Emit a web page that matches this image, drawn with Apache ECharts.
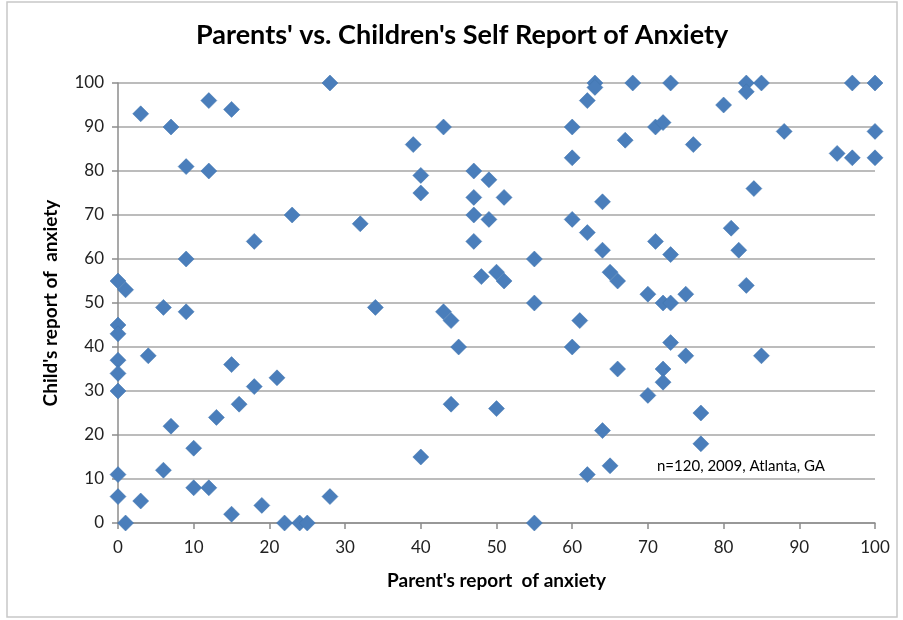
<!DOCTYPE html>
<html>
<head>
<meta charset="utf-8">
<script src="https://cdn.jsdelivr.net/npm/echarts@6/dist/echarts.min.js"></script>
<style>
html,body{margin:0;padding:0;background:#fff;}
#chart{width:903px;height:620px;}
</style>
</head>
<body>
<div id="chart"></div>
<script>
const titleText = "Parents' vs. Children's Self Report of Anxiety";
const xAxisTitle = "Parent's report  of anxiety";
const yAxisTitle = "Child's report of  anxiety";
const noteText = "n=120, 2009, Atlanta, GA";

// Parent's report (x) values
const parentScores = [
  0, 1, 0, 0, 0, 0, 0, 0, 0, 1,
  3, 3, 4, 6, 6, 7, 7, 9, 9, 9,
  10, 10, 12, 12, 12, 13, 15, 15, 15, 16,
  18, 18, 19, 21, 22, 23, 24, 25, 28, 28,
  32, 34, 39, 40, 40, 40, 43, 43, 44, 44,
  45, 47, 47, 47, 47, 48, 49, 49, 50, 51,
  50, 51, 55, 55, 55, 60, 60, 60, 60,
  62, 63, 63, 62, 61, 62, 64, 64, 64, 65,
  66, 66, 65, 67, 68, 70, 70, 71, 72, 71,
  72, 73, 73, 73, 72, 72, 73, 75, 75, 76,
  77, 77, 80, 81, 82, 83, 83, 83, 84, 85,
  85, 88, 95, 97, 97, 100, 100, 100
];
// Child's report (y) values
const childScores = [
  55, 53, 45, 43, 37, 34, 30, 11, 6, 0,
  93, 5, 38, 49, 12, 90, 22, 81, 60, 48,
  17, 8, 96, 80, 8, 24, 94, 36, 2, 27,
  64, 31, 4, 33, 0, 70, 0, 0, 100, 6,
  68, 49, 86, 79, 75, 15, 90, 48, 46, 27,
  40, 80, 74, 70, 64, 56, 78, 69, 57, 55,
  26, 74, 60, 50, 0, 90, 83, 69, 40,
  96, 100, 99, 66, 46, 11, 73, 62, 21, 57,
  55, 35, 13, 87, 100, 52, 29, 90, 91, 64,
  50, 50, 61, 41, 35, 32, 100, 52, 38, 86,
  25, 18, 95, 67, 62, 100, 98, 54, 76, 100,
  38, 89, 84, 100, 83, 100, 89, 83
];

const points = parentScores.map((p, i) => [p, childScores[i]]);

const chart = echarts.init(document.getElementById('chart'));
const FONT = 'Lato';
chart.setOption({
  animation: false,
  backgroundColor: '#ffffff',
  title: {
    text: titleText,
    left: 196,
    top: 22,
    padding: 0,
    textStyle: {fontFamily: FONT, fontWeight: 'bold', fontSize: 27, color: '#000'}
  },
  grid: {left: 118, right: 28, top: 83, bottom: 97},
  xAxis: {
    type: 'value',
    min: 0, max: 100, interval: 10,
    name: xAxisTitle,
    nameLocation: 'middle',
    nameGap: 48,
    nameTextStyle: {fontFamily: FONT, fontWeight: 'bold', fontSize: 19, color: '#000'},
    axisLine: {show: true, lineStyle: {color: '#8c8c8c', width: 1.5}},
    axisTick: {show: true, length: 6, lineStyle: {color: '#8c8c8c', width: 1.5}},
    axisLabel: {fontFamily: FONT, fontSize: 17, color: '#222', margin: 16},
    splitLine: {show: false}
  },
  yAxis: {
    type: 'value',
    min: 0, max: 100, interval: 10,
    name: yAxisTitle,
    nameLocation: 'middle',
    nameGap: 58,
    nameRotate: 90,
    nameTextStyle: {fontFamily: FONT, fontWeight: 'bold', fontSize: 19, color: '#000'},
    axisLine: {show: true, lineStyle: {color: '#8c8c8c', width: 1.5}},
    axisTick: {show: true, length: 6, lineStyle: {color: '#8c8c8c', width: 1.5}},
    axisLabel: {fontFamily: FONT, fontSize: 17, color: '#222', margin: 14},
    splitLine: {show: true, lineStyle: {color: '#a6a6a6', width: 1.5}}
  },
  series: [{
    type: 'scatter',
    data: points,
    symbol: 'diamond',
    symbolSize: 16,
    itemStyle: {color: '#4a7ebb', borderColor: '#3f72ad', borderWidth: 0.5, opacity: 1}
  }],
  graphic: [
    {
      type: 'rect',
      shape: {x: 7, y: 2, width: 890, height: 615},
      style: {fill: 'none', stroke: '#c8c8c8', lineWidth: 1.5},
      silent: true
    },
    {
      type: 'text',
      left: 657,
      top: 459,
      style: {text: noteText, fontFamily: FONT, fontSize: 15, fill: '#000'}
    }
  ]
});
</script>
</body>
</html>
